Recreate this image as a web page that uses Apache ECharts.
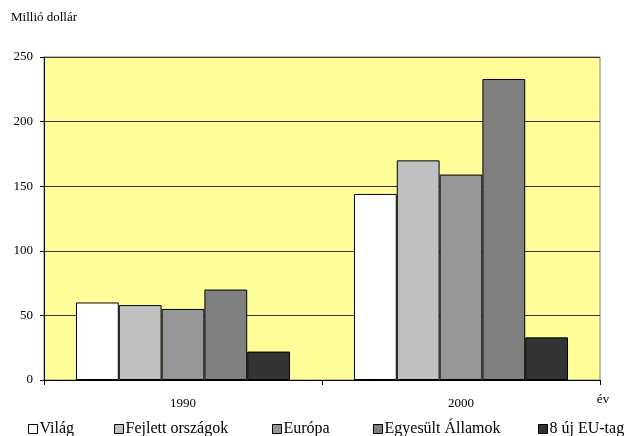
<!DOCTYPE html>
<html>
<head>
<meta charset="utf-8">
<script src="https://cdn.jsdelivr.net/npm/echarts@6/dist/echarts.min.js"></script>
<style>
  html, body { margin: 0; padding: 0; background: #fff; }
  #chart { width: 624px; height: 436px; }
</style>
</head>
<body>
<div id="chart"></div>
<script>
// Years on the category axis
const years = ['1990', '2000'];

// Series names (legend order)
const seriesNames = ['Világ', 'Fejlett országok', 'Európa', 'Egyesült Államok', '8 új EU-tag'];

// Values in million dollars, per year
const vilag = [60, 144];
const fejlett = [58, 170];
const europa = [55, 159];
const usa = [70, 233];
const ujEU = [22, 33];

// Y axis ticks
const yTicks = [0, 50, 100, 150, 200, 250];

const seriesData = [vilag, fejlett, europa, usa, ujEU];
const fills = ['#FFFFFF', '#C0C0C0', '#969696', '#808080', '#333333'];
const font = '"Liberation Serif", "Times New Roman", serif';

// Left offsets of the individual legend entries along the bottom row
const legendLeft = [28, 114, 272, 373, 538];

const chart = echarts.init(document.getElementById('chart'), null, { renderer: 'canvas' });

chart.setOption({
  animation: false,
  backgroundColor: '#FFFFFF',
  textStyle: { fontFamily: font, color: '#000' },
  title: {
    text: 'Millió dollár',
    left: 11,
    top: 11,
    padding: 0,
    textStyle: { fontFamily: font, fontSize: 13, fontWeight: 'normal', color: '#000' }
  },
  grid: {
    left: 44,
    right: 24,
    top: 57,
    bottom: 56,
    show: true,
    backgroundColor: '#FFFF99',
    borderColor: '#808080',
    borderWidth: 1
  },
  legend: seriesNames.map((name, i) => ({
    data: [name],
    left: legendLeft[i],
    top: 421,
    padding: 0,
    itemWidth: 9,
    itemHeight: 9,
    icon: 'rect',
    textStyle: { fontFamily: font, fontSize: 16, color: '#000', padding: [0, 0, 0, -3] },
    itemStyle: { borderColor: '#000', borderWidth: 1 }
  })),
  xAxis: {
    type: 'category',
    data: years,
    name: 'év',
    nameLocation: 'end',
    nameGap: 3,
    nameTextStyle: {
      fontFamily: font, fontSize: 13, color: '#000',
      align: 'center', verticalAlign: 'top', padding: [13, 0, 0, 0]
    },
    axisLine: { lineStyle: { color: '#000', width: 1 } },
    axisTick: { show: true, length: 5, lineStyle: { color: '#000' } },
    axisLabel: { fontFamily: font, fontSize: 13, color: '#000', margin: 17 },
    splitLine: { show: false }
  },
  yAxis: {
    type: 'value',
    min: yTicks[0],
    max: yTicks[yTicks.length - 1],
    interval: yTicks[1] - yTicks[0],
    axisLine: { show: true, lineStyle: { color: '#000', width: 1 } },
    axisTick: { show: true, length: 4, lineStyle: { color: '#000' } },
    axisLabel: { fontFamily: font, fontSize: 13, color: '#000', margin: 11 },
    splitLine: { show: true, lineStyle: { color: '#333333', width: 1 } }
  },
  series: seriesNames.map((name, i) => ({
    name: name,
    type: 'bar',
    data: seriesData[i],
    barGap: '0%',
    barCategoryGap: '23%',
    itemStyle: { color: fills[i], borderColor: '#000', borderWidth: 1 }
  }))
});
</script>
</body>
</html>
